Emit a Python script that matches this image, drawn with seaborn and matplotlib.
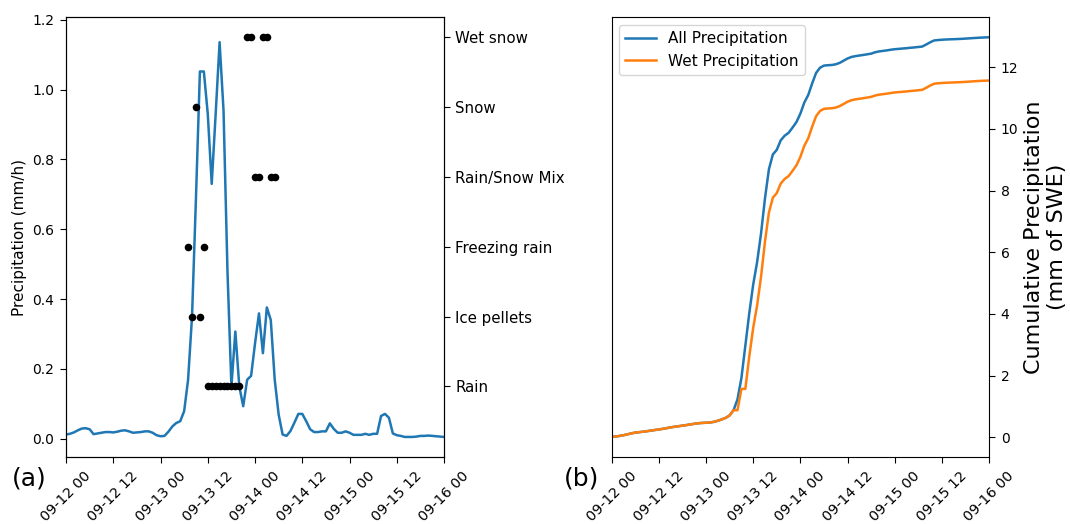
import numpy as np
import pandas as pd
import matplotlib
matplotlib.use("Agg")
import matplotlib.pyplot as plt
import matplotlib.dates as mdates
import seaborn as sns

# Hourly precipitation rate (mm/h), 09-12 00 through 09-16 00
precip = [
    0.012, 0.014, 0.018, 0.024, 0.029, 0.030, 0.027, 0.013, 0.015, 0.017,
    0.019, 0.019, 0.018, 0.020, 0.023, 0.024, 0.021, 0.017, 0.018, 0.019,
    0.021, 0.021, 0.017, 0.010, 0.007, 0.008, 0.020, 0.035, 0.045, 0.050,
    0.079, 0.169, 0.350, 0.690, 1.052, 1.052, 0.930, 0.730, 0.930, 1.136,
    0.940, 0.480, 0.150, 0.307, 0.150, 0.093, 0.169, 0.180, 0.273, 0.359,
    0.245, 0.376, 0.340, 0.169, 0.069, 0.012, 0.008, 0.022, 0.046, 0.071,
    0.071, 0.050, 0.027, 0.019, 0.019, 0.021, 0.021, 0.044, 0.028, 0.017,
    0.017, 0.021, 0.017, 0.011, 0.011, 0.011, 0.014, 0.011, 0.014, 0.014,
    0.065, 0.071, 0.060, 0.015, 0.010, 0.008, 0.005, 0.005, 0.005, 0.006,
    0.008, 0.008, 0.009, 0.008, 0.007, 0.006, 0.005,
]
times = pd.date_range("2020-09-12 00:00", periods=len(precip), freq="h")

# Observed precipitation type, by hour offset from 09-12 00
ptype_categories = ["Rain", "Ice pellets", "Freezing rain", "Rain/Snow Mix", "Snow", "Wet snow"]
obs_hours = [31, 32, 33, 34, 35,
             36, 37, 38, 39, 40, 41, 42, 43, 44,
             46, 47, 48, 49, 50, 51, 52, 53]
obs_types = ["Freezing rain", "Ice pellets", "Snow", "Ice pellets", "Freezing rain",
             "Rain", "Rain", "Rain", "Rain", "Rain", "Rain", "Rain", "Rain", "Rain",
             "Wet snow", "Wet snow", "Rain/Snow Mix", "Rain/Snow Mix",
             "Wet snow", "Wet snow", "Rain/Snow Mix", "Rain/Snow Mix"]
# types that do not count toward wet precipitation
non_wet_types = ["Ice pellets"]

df = pd.DataFrame({"time": times, "precip": precip})
type_by_hour = dict(zip(obs_hours, obs_types))
df["ptype"] = [type_by_hour.get(i) for i in range(len(df))]
df["all_cum"] = df["precip"].cumsum()
df["wet_cum"] = df["precip"].where(~df["ptype"].isin(non_wet_types), 0.0).cumsum()

# category rows share the precipitation axis: 0.15, 0.35, ... 1.15
cat_pos = {c: 0.15 + 0.2 * k for k, c in enumerate(ptype_categories)}
obs = pd.DataFrame({"time": times[obs_hours], "ptype": obs_types})
obs["ypos"] = obs["ptype"].map(cat_pos)

fig = plt.figure(figsize=(10.7, 5.24), dpi=100)
ax1 = fig.add_axes([0.0617, 0.128, 0.3533, 0.839])
ax3 = fig.add_axes([0.5717, 0.128, 0.3526, 0.839])

blue, orange = sns.color_palette("tab10")[:2]

# (a) hourly rate with precipitation type
sns.lineplot(data=df, x="time", y="precip", ax=ax1, color=blue, linewidth=1.8)
sns.scatterplot(data=obs, x="time", y="ypos", ax=ax1, color="black", s=30,
                linewidth=0, zorder=3)
ax1.set_xlim(times[0], times[-1])
ax1.set_ylabel("Precipitation (mm/h)", fontsize=11)
ax1.set_xlabel("")
ax1.set_yticks(np.arange(0, 1.21, 0.2))
ax1.tick_params(labelsize=10, length=4.3, pad=4.2)

ax2 = ax1.twinx()
ax2.set_ylim(ax1.get_ylim())
ax2.set_yticks([cat_pos[c] for c in ptype_categories])
ax2.set_yticklabels(ptype_categories, fontsize=10.8)
ax2.tick_params(length=4.3, pad=3.6)

# (b) cumulative totals
sns.lineplot(data=df, x="time", y="all_cum", ax=ax3, color=blue, linewidth=1.8,
             label="All Precipitation")
sns.lineplot(data=df, x="time", y="wet_cum", ax=ax3, color=orange, linewidth=1.8,
             label="Wet Precipitation")
ax3.set_xlim(times[0], times[-1])
ax3.yaxis.tick_right()
ax3.yaxis.set_label_position("right")
ax3.set_ylabel("Cumulative Precipitation\n(mm of SWE)", fontsize=16)
ax3.set_xlabel("")
ax3.set_yticks(np.arange(0, 13, 2))
ax3.tick_params(labelsize=10, length=4.3, pad=4.2)
ax3.legend(loc="upper left", fontsize=11)

for ax in (ax1, ax3):
    ax.xaxis.set_major_locator(mdates.HourLocator(byhour=[0, 12]))
    ax.xaxis.set_major_formatter(mdates.DateFormatter("%m-%d %H"))
    for lab in ax.get_xticklabels():
        lab.set_rotation(45)
        lab.set_fontsize(10.3)

fig.text(0.011, 0.086, "(a)", fontsize=18, va="center")
fig.text(0.527, 0.086, "(b)", fontsize=18, va="center")

fig.savefig("out.png", dpi=100)
